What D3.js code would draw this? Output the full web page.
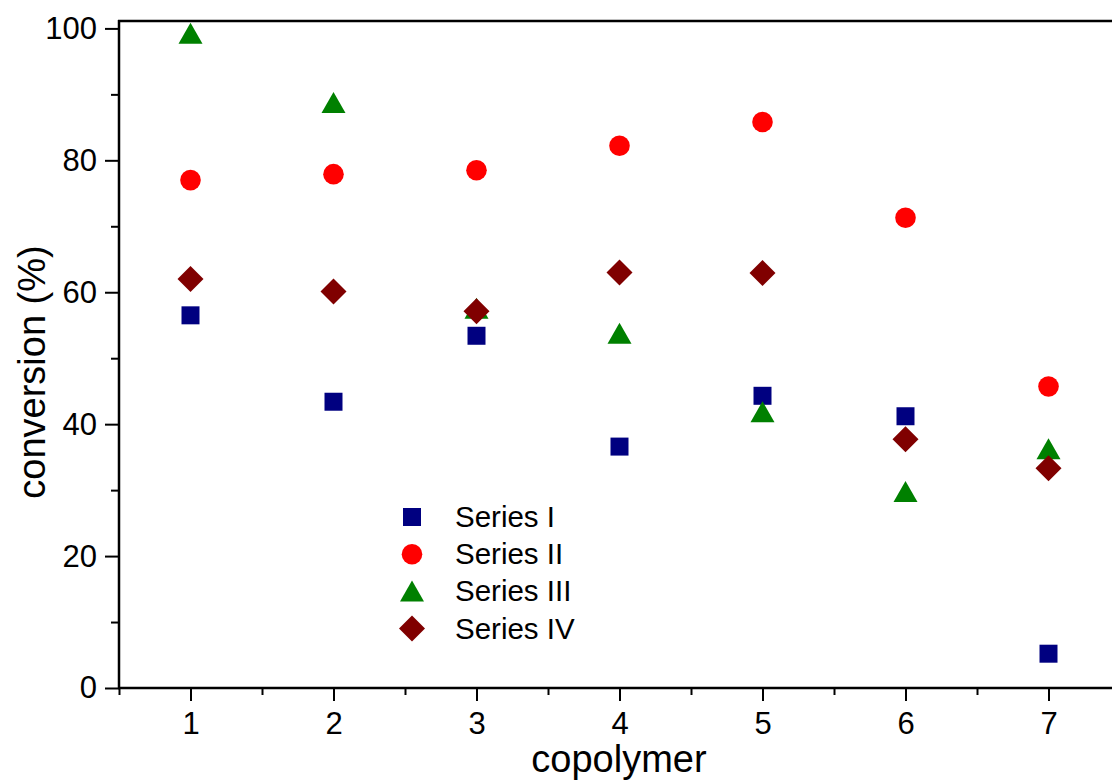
<!DOCTYPE html>
<html>
<head>
<meta charset="utf-8">
<script src="https://cdn.jsdelivr.net/npm/d3@7"></script>
<style>
  body { margin: 0; background: #fff; }
  text { font-family: "Liberation Sans", Arial, sans-serif; fill: #000; }
</style>
</head>
<body>
<div id="chart"></div>
<script>
// Data
var copolymers = [1, 2, 3, 4, 5, 6, 7];
var seriesNames = ["Series I", "Series II", "Series III", "Series IV"];
var seriesI   = [56.5, 43.4, 53.4, 36.6, 44.3, 41.2, 5.2];
var seriesII  = [77.0, 77.9, 78.5, 82.2, 85.8, 71.3, 45.7];
var seriesIII = [99.2, 88.7, 57.5, 53.7, 41.8, 29.7, 36.2];
var seriesIV  = [62.0, 60.1, 57.1, 63.0, 62.9, 37.7, 33.3];
var yTicks = [0, 20, 40, 60, 80, 100];
var yMinor = [10, 30, 50, 70, 90];
var xMinor = [0.5, 1.5, 2.5, 3.5, 4.5, 5.5, 6.5, 7.5];

var svgWidth = 1112;
var svgHeight = 784;

var svg = d3.select("#chart")
  .append("svg")
  .attr("width", svgWidth)
  .attr("height", svgHeight);

var xScale = d3.scaleLinear().domain([0.5, 7.5]).range([119, 1120]);
var yScale = d3.scaleLinear().domain([0, 100]).range([688, 28.4]);

// minor ticks first
svg.append("g")
  .attr("transform", "translate(0,688)")
  .call(d3.axisBottom(xScale).tickValues(xMinor).tickSize(7).tickSizeOuter(0).tickFormat(""))
  .call(g => g.select(".domain").remove())
  .selectAll("line").attr("stroke-width", 2);

svg.append("g")
  .attr("transform", "translate(119,0)")
  .call(d3.axisLeft(yScale).tickValues(yMinor).tickSize(8).tickSizeOuter(0).tickFormat(""))
  .call(g => g.select(".domain").remove())
  .selectAll("line").attr("stroke-width", 2);

// major ticks + labels
var xAxis = svg.append("g")
  .attr("transform", "translate(0,688)")
  .call(d3.axisBottom(xScale).tickValues(copolymers).tickSize(13).tickPadding(11).tickSizeOuter(0).tickFormat(d3.format("d")));
xAxis.select(".domain").remove();
xAxis.selectAll("line").attr("stroke-width", 2);
xAxis.selectAll("text").attr("font-size", 31).attr("font-family", "'Liberation Sans', Arial, sans-serif");

var yAxis = svg.append("g")
  .attr("transform", "translate(119,0)")
  .call(d3.axisLeft(yScale).tickValues(yTicks).tickSize(14).tickPadding(8).tickSizeOuter(0));
yAxis.select(".domain").remove();
yAxis.selectAll("line").attr("stroke-width", 2);
yAxis.selectAll("text").attr("font-size", 31).attr("font-family", "'Liberation Sans', Arial, sans-serif");

// frame lines (right side runs off the picture)
svg.append("line").attr("x1", 119).attr("x2", 119).attr("y1", 20).attr("y2", 689)
  .attr("stroke", "#000").attr("stroke-width", 2.5);
svg.append("line").attr("x1", 118).attr("x2", svgWidth).attr("y1", 688).attr("y2", 688)
  .attr("stroke", "#000").attr("stroke-width", 2.5);
svg.append("line").attr("x1", 118).attr("x2", svgWidth).attr("y1", 21).attr("y2", 21)
  .attr("stroke", "#000").attr("stroke-width", 2.5);

// Symbols
var square = d3.symbol().type(d3.symbolSquare).size(18 * 18);
var circle = d3.symbol().type(d3.symbolCircle).size(Math.PI * 10.3 * 10.3);
var triangle = function() {
  return "M0,-11L12,10L-12,10Z";
};
var diamond = function() {
  return "M0,-13L13,0L0,13L-13,0Z";
};

var series = [
  { values: seriesI, shape: square, color: "#000080" },
  { values: seriesII, shape: circle, color: "#ff0000" },
  { values: seriesIII, shape: triangle, color: "#008000" },
  { values: seriesIV, shape: diamond, color: "#800000" }
];

// draw order as in the original: squares, circles, triangles, diamonds
series.forEach(function(s) {
  svg.append("g").selectAll("path")
    .data(s.values)
    .enter()
    .append("path")
    .attr("d", s.shape)
    .attr("transform", (d, i) => `translate(${xScale(copolymers[i])},${yScale(d)})`)
    .attr("fill", s.color);
});

// Legend
var legend = svg.append("g").attr("transform", "translate(412,517)");
series.forEach(function(s, i) {
  legend.append("path")
    .attr("d", s.shape)
    .attr("transform", `translate(0,${i * 37.2})`)
    .attr("fill", s.color);
  legend.append("text")
    .attr("x", 43)
    .attr("y", i * 37.2 + 10)
    .attr("font-size", 29.5)
    .text(seriesNames[i]);
});

// Axis titles
svg.append("text")
  .attr("x", 619)
  .attr("y", 772)
  .attr("text-anchor", "middle")
  .attr("font-size", 38)
  .text("copolymer");

svg.append("text")
  .attr("transform", "translate(45,372) rotate(-90)")
  .attr("text-anchor", "middle")
  .attr("font-size", 38)
  .text("conversion (%)");
</script>
</body>
</html>
